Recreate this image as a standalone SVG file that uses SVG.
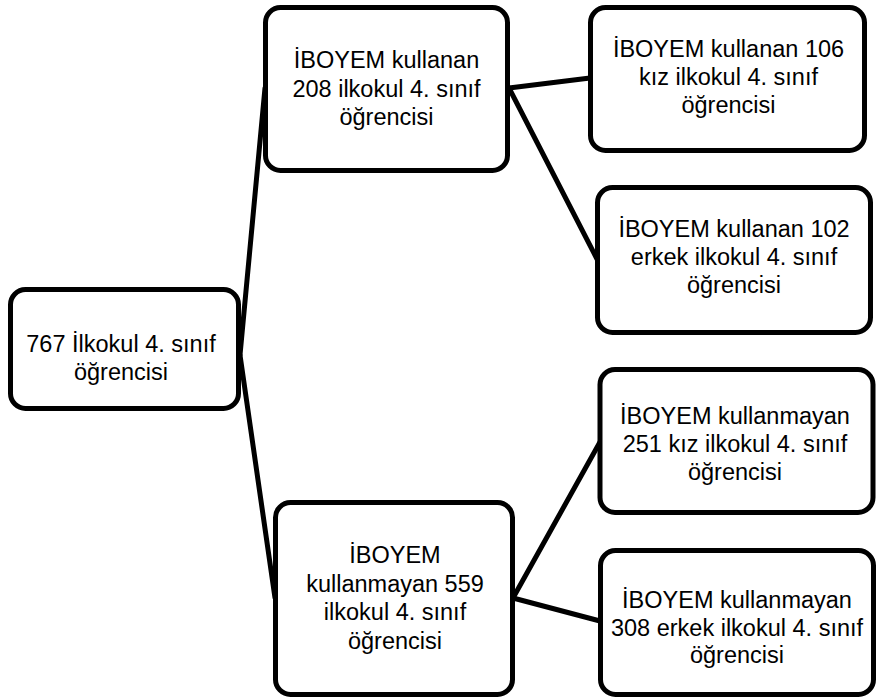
<svg xmlns="http://www.w3.org/2000/svg" width="878" height="699" viewBox="0 0 878 699">
<style>
.box{fill:#fff;stroke:#000;stroke-width:5}
.edge{stroke:#000;stroke-width:5;fill:none;stroke-linecap:round}
text{font-family:"Liberation Sans",Arial,sans-serif;font-size:23.5px;fill:#000;text-anchor:middle}
</style>
<rect width="878" height="699" fill="#fff"/>
<g id="connectors">
<line class="edge" x1="240" y1="355" x2="265" y2="88"/>
<line class="edge" x1="240" y1="355" x2="275" y2="598"/>
<line class="edge" x1="509" y1="88" x2="590" y2="78"/>
<line class="edge" x1="509" y1="88" x2="597" y2="259"/>
<line class="edge" x1="513" y1="598" x2="600" y2="442"/>
<line class="edge" x1="513" y1="598" x2="600" y2="621"/>
</g>
<g id="root">
<rect class="box" x="10.5" y="289.5" width="228" height="119" rx="15"/>
<text x="121" y="352">767 İlkokul 4. sınıf</text>
<text x="121" y="380">öğrencisi</text>
</g>
<g id="users208">
<rect class="box" x="265.5" y="7.5" width="242" height="163" rx="15"/>
<text x="386.5" y="68">İBOYEM kullanan</text>
<text x="386.5" y="96.5">208 ilkokul 4. sınıf</text>
<text x="386.5" y="125">öğrencisi</text>
</g>
<g id="users106">
<rect class="box" x="590.5" y="7.5" width="274" height="143" rx="15"/>
<text x="728.5" y="57">İBOYEM kullanan 106</text>
<text x="728.5" y="85">kız ilkokul 4. sınıf</text>
<text x="728.5" y="113">öğrencisi</text>
</g>
<g id="users102">
<rect class="box" x="597.5" y="187.5" width="273" height="145" rx="15"/>
<text x="734" y="237">İBOYEM kullanan 102</text>
<text x="734" y="265">erkek ilkokul 4. sınıf</text>
<text x="734" y="293">öğrencisi</text>
</g>
<g id="nonusers559">
<rect class="box" x="275.5" y="502.5" width="237" height="192" rx="15"/>
<text x="395" y="563">İBOYEM</text>
<text x="395" y="592">kullanmayan 559</text>
<text x="395" y="620">ilkokul 4. sınıf</text>
<text x="395" y="649">öğrencisi</text>
</g>
<g id="nonusers251">
<rect class="box" x="600" y="369.5" width="273" height="143" rx="15"/>
<text x="735" y="424">İBOYEM kullanmayan</text>
<text x="735" y="452">251 kız ilkokul 4. sınıf</text>
<text x="735" y="480">öğrencisi</text>
</g>
<g id="nonusers308">
<rect class="box" x="600.5" y="550.5" width="273" height="144" rx="15"/>
<text x="737" y="608">İBOYEM kullanmayan</text>
<text x="737" y="636">308 erkek ilkokul 4. sınıf</text>
<text x="737" y="663">öğrencisi</text>
</g>
</svg>
